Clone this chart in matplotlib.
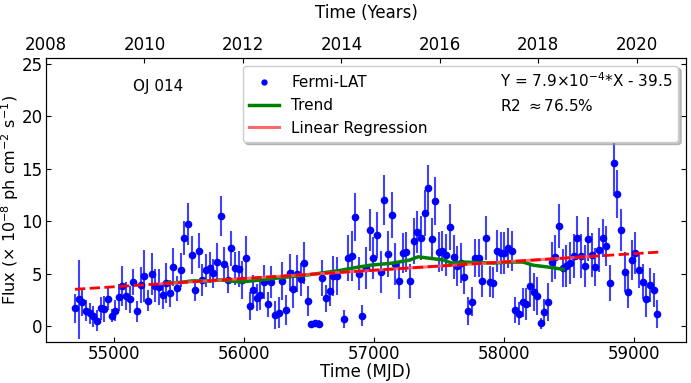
import matplotlib
matplotlib.use("Agg")
import matplotlib.pyplot as plt
from matplotlib.lines import Line2D

#monthly (28 day) light curve points
mjd = [54700, 54731, 54756, 54785, 54815, 54841, 54869, 54897, 54926, 54951,
       54982, 55010, 55036, 55064, 55092, 55121, 55149, 55177, 55205, 55233,
       55262, 55290, 55318, 55346, 55374, 55400, 55428, 55456, 55485, 55513,
       55538, 55569, 55597, 55623, 55651, 55679, 55707, 55736, 55764, 55792,
       55820, 55848, 55874, 55902, 55930, 55958, 55987, 56015, 56043, 56071,
       56100, 56125, 56153, 56182, 56210, 56238, 56266, 56294, 56323, 56351,
       56379, 56407, 56435, 56464, 56489, 56517, 56546, 56574, 56602, 56630,
       56658, 56687, 56715, 56771, 56799, 56828, 56856, 56884, 56910, 56938,
       56966, 56995, 57023, 57051, 57079, 57107, 57136, 57164, 57192, 57220,
       57248, 57277, 57305, 57333, 57361, 57389, 57415, 57443, 57471, 57497,
       57525, 57553, 57582, 57612, 57638, 57666, 57694, 57720, 57751, 57777,
       57805, 57833, 57861, 57889, 57918, 57946, 57974, 58002, 58030, 58059,
       58087, 58115, 58143, 58172, 58200, 58228, 58256, 58282, 58310, 58338,
       58366, 58395, 58423, 58451, 58479, 58508, 58536, 58564, 58592, 58620,
       58649, 58677, 58702, 58731, 58759, 58787, 58815, 58843, 58872, 58900,
       58928, 58954, 58982, 59010, 59038, 59067, 59095, 59123, 59151, 59179]

flux = [1.69, 2.54, 2.26, 1.46, 1.21, 0.95, 0.48, 1.69, 1.62, 2.58,
        0.99, 1.46, 2.74, 3.82, 2.86, 2.54, 4.20, 1.40, 3.90, 4.77,
        2.39, 5.00, 3.85, 3.69, 2.93, 4.07, 3.12, 5.66, 3.59, 5.34,
        8.40, 9.73, 6.74, 3.43, 7.19, 4.40, 5.30, 5.57, 5.03, 6.10,
        10.53, 5.90, 4.40, 7.40, 5.50, 5.44, 4.40, 6.50, 1.90, 3.40,
        2.70, 2.96, 4.20, 2.07, 4.20, 1.05, 1.27, 4.30, 1.53, 5.10,
        3.50, 5.00, 4.45, 6.04, 2.39, 0.19, 0.25, 0.16, 4.55, 2.64,
        3.37, 4.77, 4.77, 0.67, 6.50, 6.70, 10.43, 5.00, 0.97, 5.50,
        9.16, 6.46, 8.68, 5.18, 12.00, 6.87, 10.60, 5.88, 4.29, 6.93,
        7.09, 4.29, 8.14, 9.00, 8.43, 10.75, 13.14, 8.27, 11.96, 7.03,
        7.19, 6.77, 9.41, 6.62, 5.73, 5.98, 4.64, 1.43, 2.32, 6.46,
        6.46, 4.29, 8.37, 4.23, 4.13, 7.16, 6.93, 6.93, 7.41, 7.19,
        1.53, 1.18, 2.26, 2.10, 3.82, 3.21, 2.86, 0.25, 1.37, 2.26,
        6.07, 6.62, 9.54, 5.50, 5.76, 5.98, 6.71, 8.37, 6.71, 5.73,
        8.27, 6.77, 5.60, 7.25, 8.37, 7.63, 4.13, 15.52, 12.56, 9.16,
        5.18, 3.28, 6.30, 7.00, 5.34, 4.23, 2.58, 3.91, 3.44, 1.15]

flux_err = [1.4, 3.8, 1.3, 1.0, 1.0, 1.0, 1.0, 1.1, 1.2, 1.1,
            0.6, 1.0, 1.3, 1.9, 1.3, 1.3, 1.2, 1.0, 1.7, 2.5,
            1.0, 2.0, 1.6, 1.7, 1.3, 1.9, 1.3, 1.8, 1.2, 1.6,
            1.6, 2.0, 1.8, 1.0, 1.7, 1.5, 1.6, 1.5, 1.4, 1.8,
            1.9, 1.6, 1.3, 1.7, 1.6, 1.7, 1.8, 2.1, 1.3, 1.5,
            1.3, 1.4, 1.6, 1.2, 1.5, 1.3, 1.5, 1.8, 1.4, 1.8,
            1.8, 1.8, 1.6, 2.0, 1.4, 0.3, 0.3, 0.4, 1.7, 1.3,
            1.5, 1.9, 1.8, 0.9, 2.2, 2.4, 2.3, 1.6, 1.0, 2.0,
            2.0, 2.0, 2.2, 2.0, 2.4, 2.2, 2.2, 2.0, 1.7, 1.9,
            1.9, 1.6, 2.2, 2.0, 2.1, 2.2, 2.2, 2.0, 2.3, 1.9,
            1.9, 2.0, 2.2, 2.1, 1.9, 1.9, 1.6, 1.3, 1.4, 1.8,
            1.8, 1.5, 2.1, 1.5, 1.5, 2.0, 2.0, 2.0, 1.9, 1.9,
            1.2, 1.1, 1.4, 1.5, 2.0, 1.8, 1.8, 0.5, 1.2, 1.8,
            1.9, 2.1, 2.1, 1.8, 2.0, 2.0, 2.1, 2.1, 2.1, 2.0,
            2.1, 2.1, 1.8, 2.1, 1.8, 1.9, 1.7, 3.1, 2.3, 2.0,
            1.9, 1.6, 1.9, 2.0, 1.7, 1.7, 1.7, 1.6, 1.6, 1.3]

#smoothed trend curve
trend_mjd = [55408, 55500, 55600, 55738, 55815, 55970, 56100, 56277, 56508,
             56738, 56870, 56970, 57146, 57277, 57338, 57531, 57600, 57685,
             57915, 58046, 58146, 58223, 58354, 58454]
trend_flux = [4.1, 4.15, 4.3, 4.3, 4.4, 4.2, 4.35, 4.6, 4.9,
              5.3, 5.6, 5.8, 6.0, 6.3, 6.6, 6.3, 6.0, 6.1,
              6.0, 6.1, 6.1, 5.8, 5.6, 5.4]

#linear regression Y = a*X + b
slope = 7.9e-4
intercept = -39.71
fit_range = [55350, 58700]
full_range = [54700, 59200]

fig, ax = plt.subplots(figsize=(6.91, 3.83), dpi=100)
fig.subplots_adjust(left=0.0666, right=0.9928, bottom=0.107, top=0.8486)

#data with error bars
ax.errorbar(mjd, flux, yerr=flux_err, fmt='none', ecolor='blue',
            elinewidth=1.5, alpha=0.75, zorder=2)
ax.plot(mjd, flux, 'o', color='blue', markersize=4.5, zorder=3)

#trend and regression lines
ax.plot(trend_mjd, trend_flux, color='green', lw=2.5, zorder=4)
ax.plot(fit_range, [slope * x + intercept for x in fit_range],
        color='#ff5c5c', lw=2.2, alpha=0.8, zorder=5)
ax.plot(full_range, [slope * x + intercept for x in full_range],
        'r--', lw=2, zorder=5)

ax.set_xlim(54477, 59400)
ax.set_ylim(-1.53, 25.57)
ax.set_yticks([0, 5, 10, 15, 20, 25])
ax.tick_params(direction='in', labelsize=12, right=True, pad=2.5)
ax.set_xlabel("Time (MJD)", fontsize=12, labelpad=0)
ax.set_ylabel(r"Flux ($\times$ 10$^{-8}$ ph cm$^{-2}$ s$^{-1}$)", fontsize=11.5,
              labelpad=0)

ax.text(0.136, 0.898, "OJ 014", transform=ax.transAxes, fontsize=11,
        ha='left', va='center')

#top axis in years
ax2 = ax.twiny()
ax2.set_xlim(2008, 2021)
ax2.set_xticks([2008, 2010, 2012, 2014, 2016, 2018, 2020])
ax2.tick_params(direction='in', labelsize=12, pad=3)
ax2.set_xlabel("Time (Years)", fontsize=12, labelpad=13)

#legend with the fit text in a second column
handles = [Line2D([], [], marker='o', color='blue', ls='none', markersize=3.5),
           Line2D([], [], color='green', lw=2.5),
           Line2D([], [], color='#ff6b6b', lw=2.2),
           Line2D([], [], color='none'),
           Line2D([], [], color='none')]
labels = ["Fermi-LAT", "Trend", "Linear Regression",
          r"Y = 7.9$\times$10$^{-4}$*X - 39.5", r"R2 $\approx$76.5%"]
ax.legend(handles, labels, loc='upper right', ncol=2, fontsize=11,
          columnspacing=1.9, framealpha=1,
          shadow={'color': '0.55', 'alpha': 0.5, 'ox': 2, 'oy': -2})

fig.savefig("out.png", dpi=100)
